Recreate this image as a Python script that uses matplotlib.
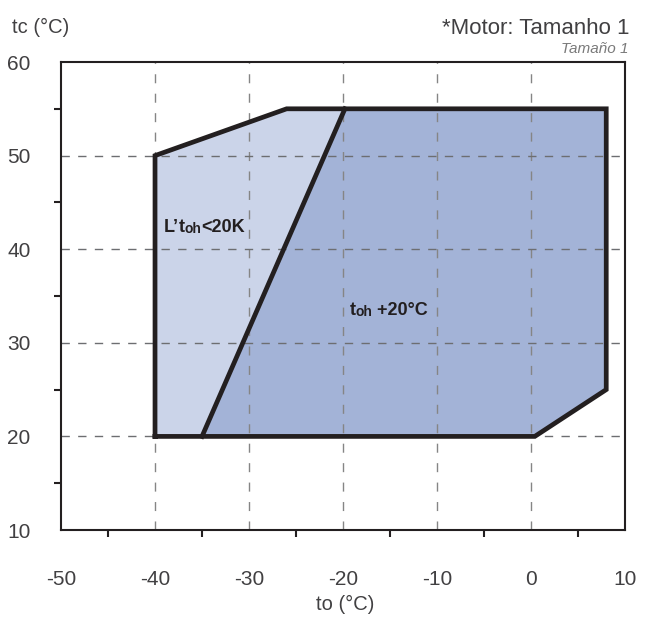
import matplotlib.pyplot as plt
from matplotlib.patches import Polygon

plt.rcParams['font.family'] = ['Liberation Sans', 'DejaVu Sans']
plt.rcParams['axes.unicode_minus'] = False

# envelope corners (to, tc)
light_to = [-40, -40, -26, -19.8, -35]
light_tc = [20, 50, 55, 55, 20]
dark_to = [-35, -19.8, 8, 8, 0.4]
dark_tc = [20, 55, 55, 25, 20]
outline_to = [-40, -40, -26, 8, 8, 0.4, -40]
outline_tc = [20, 50, 55, 55, 25, 20, 20]
divider_to = [-35, -19.8]
divider_tc = [20, 55]

x_ticks = [-50, -40, -30, -20, -10, 0, 10]
y_ticks = [10, 20, 30, 40, 50, 60]
x_minor = [-50, -45, -35, -25, -15, -5, 5]
y_minor = [10, 15, 25, 35, 45, 55, 60]

dark = '#231f20'

fig = plt.figure(figsize=(6.54, 6.17), dpi=100)
ax = fig.add_axes([0.0933, 0.141, 0.8624, 0.7585])
ax.set_xlim(-50, 10)
ax.set_ylim(10, 60)

ax.add_patch(Polygon(list(zip(light_to, light_tc)), closed=True,
                     facecolor='#cbd4e9', edgecolor='none', zorder=1))
ax.add_patch(Polygon(list(zip(dark_to, dark_tc)), closed=True,
                     facecolor='#a3b3d7', edgecolor='none', zorder=1))

# dashed grid
for x in x_ticks[1:-1]:
    ax.axvline(x, color='#858585', lw=1.0, ls=(0, (6.5, 7.5)), zorder=2)
for y in y_ticks[1:-1]:
    ax.axhline(y, color='#6d6e71', lw=1.0, ls=(0, (6, 6)), zorder=2)

ax.plot(outline_to, outline_tc, color=dark, lw=3.4, solid_joinstyle='miter', zorder=3)
ax.plot(divider_to, divider_tc, color=dark, lw=3.4, zorder=3)

for s in ax.spines.values():
    s.set_color(dark)
    s.set_linewidth(1.5)

ax.set_xticks(x_ticks)
ax.set_yticks(y_ticks)
ax.set_xticks(x_minor, minor=True)
ax.set_yticks(y_minor, minor=True)
ax.tick_params(which='major', length=0, labelsize=15, labelcolor='#414042')
ax.tick_params(axis='x', which='major', pad=29)
ax.tick_params(axis='y', which='major', pad=22)
ax.tick_params(which='minor', length=5, width=1.5, color=dark, direction='out')

# region labels
t1 = ax.text(-39.1, 42.3, "L’", fontsize=13, fontweight='bold', color=dark, va='center')
t2 = ax.annotate("t", xy=(1, 0), xycoords=t1, fontsize=13, fontweight='bold',
                 color=dark, va='bottom')
t3 = ax.annotate("oh", xy=(1, 0), xycoords=t2, fontsize=10, fontweight='bold',
                 color=dark, va='bottom')
ax.annotate("<20K", xy=(1, 0), xycoords=t3, fontsize=13, fontweight='bold',
            color=dark, va='bottom')

u1 = ax.text(-19.3, 33.5, "t", fontsize=13, fontweight='bold', color=dark, va='center')
u2 = ax.annotate("oh", xy=(1, 0), xycoords=u1, fontsize=10, fontweight='bold',
                 color=dark, va='bottom')
ax.annotate(" +20°C", xy=(1, 0), xycoords=u2, fontsize=13, fontweight='bold',
            color=dark, va='bottom')

fig.text(0.018, 0.955, 'tc (°C)', fontsize=14.5, color='#414042', va='center')
fig.text(0.528, 0.021, 'to (°C)', fontsize=14.5, color='#414042', ha='center', va='center')
fig.text(0.963, 0.953, '*Motor: Tamanho 1', fontsize=16, color='#414042', ha='right', va='center')
fig.text(0.961, 0.921, 'Tamaño 1', fontsize=11, color='#7a7a7a', style='italic',
         ha='right', va='center')

fig.savefig('out.png', dpi=100)
